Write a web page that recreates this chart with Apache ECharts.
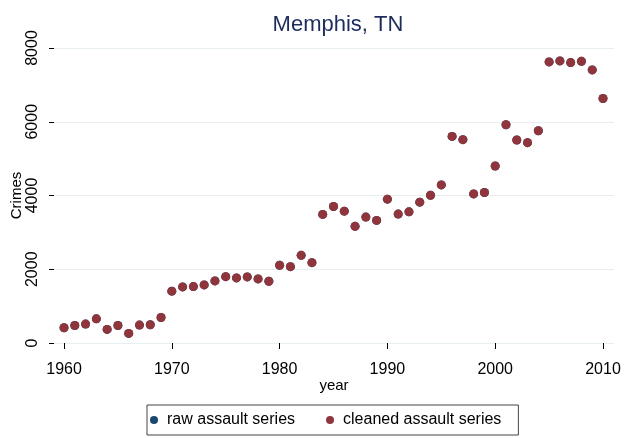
<!DOCTYPE html>
<html>
<head>
<meta charset="utf-8">
<script src="https://cdn.jsdelivr.net/npm/echarts@6/dist/echarts.min.js"></script>
<style>
  html, body { margin: 0; padding: 0; background: #fff; }
  #main { width: 625px; height: 438px; }
</style>
</head>
<body>
<div id="main"></div>
<script>
// 数据
var years = [1960, 1961, 1962, 1963, 1964, 1965, 1966, 1967, 1968, 1969,
             1970, 1971, 1972, 1973, 1974, 1975, 1976, 1977, 1978, 1979,
             1980, 1981, 1982, 1983, 1984, 1985, 1986, 1987, 1988, 1989,
             1990, 1991, 1992, 1993, 1994, 1995, 1996, 1997, 1998, 1999,
             2000, 2001, 2002, 2003, 2004, 2005, 2006, 2007, 2008, 2009, 2010];
var cleaned = [415, 476, 513, 656, 368, 476, 260, 486, 495, 692,
               1405, 1522, 1530, 1576, 1684, 1800, 1765, 1792, 1738, 1676,
               2108, 2070, 2378, 2178, 3487, 3703, 3576, 3163, 3414, 3325,
               3900, 3495, 3557, 3819, 4008, 4287, 5603, 5514, 4044, 4081,
               4801, 5920, 5504, 5433, 5757, 7622, 7650, 7604, 7639, 7406, 6631];
// raw series sits under the cleaned one (same values)
var raw = cleaned.slice();
var xTicks = [1960, 1970, 1980, 1990, 2000, 2010];

var font = '"Liberation Sans", Arial, sans-serif';

var myChart = echarts.init(document.getElementById('main'));
myChart.setOption({
    backgroundColor: '#fff',
    animation: false,
    title: {
        text: 'Memphis, TN',
        left: 333,
        textAlign: 'center',
        top: 9,
        textStyle: { color: '#1c2c5c', fontSize: 22, fontWeight: 'normal', fontFamily: font }
    },
    grid: { left: 54, right: 11, top: 48, bottom: 95, containLabel: false, outerBoundsMode: 'none' },
    legend: {
        left: 147,
        top: 405,
        itemGap: 31,
        itemWidth: 16,
        itemHeight: 8,
        padding: [7, 17, 7, 3],
        borderColor: '#444',
        borderWidth: 1,
        textStyle: { color: '#000', fontSize: 16, fontFamily: font },
        data: [
            { name: 'raw assault series', icon: 'circle' },
            { name: 'cleaned assault series', icon: 'circle' }
        ]
    },
    xAxis: {
        type: 'value',
        min: 1959.07,
        max: 2011.02,
        offset: 10,
        name: 'year',
        nameLocation: 'middle',
        nameMoveOverlap: false,
        nameGap: 25,
        nameTextStyle: { color: '#000', fontSize: 15, fontFamily: font },
        axisLine: { show: false },
        axisTick: { show: true, length: 6, customValues: xTicks, lineStyle: { color: '#000' } },
        axisLabel: {
            customValues: xTicks, color: '#000', fontSize: 16, fontFamily: font, margin: 9,
            formatter: function (v) { return String(v); }
        },
        splitLine: { show: false }
    },
    yAxis: {
        type: 'value',
        min: 0,
        max: 8000,
        interval: 2000,
        name: 'Crimes',
        nameLocation: 'middle',
        nameMoveOverlap: false,
        nameGap: 30,
        nameTextStyle: { color: '#000', fontSize: 15, fontFamily: font },
        axisLine: { show: false },
        axisTick: { show: true, length: 5, lineStyle: { color: '#000' } },
        axisLabel: {
            rotate: 90, color: '#000', fontSize: 16, fontFamily: font, margin: 13,
            align: 'center', verticalAlign: 'bottom',
            formatter: function (v) { return String(v); }
        },
        splitLine: { show: true, lineStyle: { color: '#e6eef0', width: 1.2 } }
    },
    series: [
        {
            name: 'raw assault series',
            type: 'scatter',
            symbolSize: 9,
            itemStyle: { color: '#1a476f', opacity: 1 },
            data: years.map(function (y, i) { return [y, raw[i]]; })
        },
        {
            name: 'cleaned assault series',
            type: 'scatter',
            symbolSize: 9,
            itemStyle: { color: '#90353b', opacity: 1 },
            data: years.map(function (y, i) { return [y, cleaned[i]]; })
        }
    ]
});
</script>
</body>
</html>
